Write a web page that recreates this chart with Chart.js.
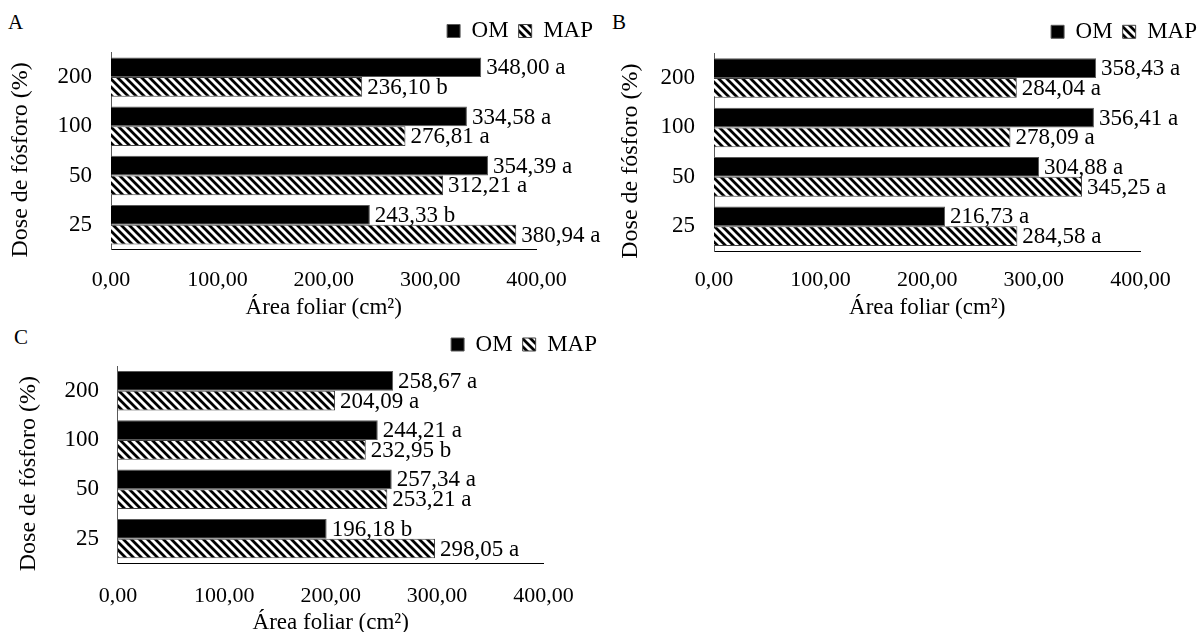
<!DOCTYPE html>
<html>
<head>
<meta charset="utf-8">
<script src="https://cdn.jsdelivr.net/npm/chart.js@4.4.1/dist/chart.umd.min.js"></script>
<style>
  html, body { margin: 0; padding: 0; background: #fff; width: 1199px; height: 632px; overflow: hidden; position: relative; }
  canvas { position: absolute; }
  .panel-letter { position: absolute; font-family: "Liberation Serif", serif; font-size: 21px; line-height: 21px; color: #000; }
</style>
</head>
<body>
<div class="panel-letter" style="left:8px; top:12px;">A</div>
<div class="panel-letter" style="left:612px; top:12px;">B</div>
<div class="panel-letter" style="left:14px; top:327px;">C</div>
<canvas id="chartA" width="603" height="320" style="left:0; top:0;"></canvas>
<canvas id="chartB" width="607" height="320" style="left:600px; top:0;"></canvas>
<canvas id="chartC" width="607" height="320" style="left:0; top:320px;"></canvas>
<script>
// Dose categories (top to bottom) and x tick labels
const doses = ['200', '100', '50', '25'];
const xTickLabels = ['0,00', '100,00', '200,00', '300,00', '400,00'];
const seriesNames = ['OM', 'MAP'];

// Panel A
const omA = [348.00, 334.58, 354.39, 243.33];
const omALetters = ['a', 'a', 'a', 'b'];
const mapA = [236.10, 276.81, 312.21, 380.94];
const mapALetters = ['b', 'a', 'a', 'a'];

// Panel B
const omB = [358.43, 356.41, 304.88, 216.73];
const omBLetters = ['a', 'a', 'a', 'a'];
const mapB = [284.04, 278.09, 345.25, 284.58];
const mapBLetters = ['a', 'a', 'a', 'a'];

// Panel C
const omC = [258.67, 244.21, 257.34, 196.18];
const omCLetters = ['a', 'a', 'a', 'b'];
const mapC = [204.09, 232.95, 253.21, 298.05];
const mapCLetters = ['a', 'b', 'a', 'a'];

const FONT = '"Liberation Serif", "Times New Roman", serif';
Chart.defaults.font.family = FONT;
Chart.defaults.color = '#000';

function fmt(v) {
    return v.toFixed(2).replace('.', ',');
}

// wide downward diagonal hatch, like the Excel pattern fill
function makeHatch() {
    const size = 8;
    const c = document.createElement('canvas');
    c.width = size;
    c.height = size;
    const g = c.getContext('2d');
    g.fillStyle = '#fff';
    g.fillRect(0, 0, size, size);
    g.strokeStyle = '#000';
    g.lineWidth = 2.8;
    g.beginPath();
    for (let k = -1; k <= 1; k++) {
        g.moveTo(-2, k * size - 2);
        g.lineTo(size + 2, k * size + size + 2);
    }
    g.stroke();
    return g.createPattern(c, 'repeat');
}

const hatch = makeHatch();

const valueLabels = {
    id: 'valueLabels',
    afterDatasetsDraw(chart) {
        const ctx = chart.ctx;
        ctx.save();
        ctx.font = '23px ' + FONT;
        ctx.fillStyle = '#000';
        ctx.textAlign = 'left';
        ctx.textBaseline = 'middle';
        chart.data.datasets.forEach((ds, i) => {
            chart.getDatasetMeta(i).data.forEach((bar, j) => {
                ctx.fillText(fmt(ds.data[j]) + ' ' + ds.letters[j], bar.x + 5, bar.y + 1);
            });
        });
        ctx.restore();
    }
};

function renderPanel(id, geo, om, omLetters, map, mapLetters) {
    const ctx = document.getElementById(id).getContext('2d');
    return new Chart(ctx, {
        type: 'bar',
        data: {
            labels: doses,
            datasets: [{
                label: seriesNames[0],
                data: om,
                letters: omLetters,
                backgroundColor: '#000',
                borderColor: '#595959',
                borderWidth: 1,
                categoryPercentage: 0.8,
                barPercentage: 1.0
            }, {
                label: seriesNames[1],
                data: map,
                letters: mapLetters,
                backgroundColor: hatch,
                borderColor: '#404040',
                borderWidth: 1,
                categoryPercentage: 0.8,
                barPercentage: 1.0
            }]
        },
        options: {
            indexAxis: 'y',
            responsive: false,
            animation: false,
            layout: { padding: { top: geo.padTop, right: 0, bottom: 0, left: 0 } },
            plugins: {
                legend: {
                    position: 'top',
                    align: 'end',
                    labels: {
                        font: { size: 23, family: FONT },
                        color: '#000',
                        boxWidth: 13,
                        boxHeight: 13,
                        padding: 10
                    }
                },
                tooltip: { enabled: false }
            },
            scales: {
                x: {
                    min: 0,
                    max: 400,
                    ticks: {
                        stepSize: 100,
                        padding: geo.tickPad,
                        font: { size: 22, family: FONT },
                        color: '#000',
                        callback: (v, i) => xTickLabels[i]
                    },
                    grid: { display: false, drawTicks: false },
                    border: { display: true, color: '#000', width: 1 },
                    title: {
                        display: true,
                        text: 'Área foliar (cm²)',
                        font: { size: 23, family: FONT, lineHeight: 1 },
                        color: '#000',
                        padding: { top: 0, bottom: geo.xTitlePad }
                    },
                    afterFit: s => { s.height = geo.xAxisH; }
                },
                y: {
                    ticks: {
                        padding: 19,
                        font: { size: 23, family: FONT },
                        color: '#000'
                    },
                    grid: { display: false, drawTicks: false },
                    border: { display: true, color: '#595959', width: 1 },
                    title: {
                        display: true,
                        // trailing spaces nudge the rotated title down, as in the original
                        text: 'Dose de fósforo (%)\u00a0\u00a0\u00a0',
                        font: { size: 24, family: FONT, lineHeight: 1 },
                        color: '#000',
                        padding: { top: geo.yTitlePad, bottom: 0 }
                    },
                    afterFit: s => { s.width = geo.yAxisW; }
                },
                // empty spacer on the right so the plot stops at 400 while the labels run past it
                spacer: {
                    type: 'linear',
                    position: 'right',
                    display: true,
                    ticks: { display: false },
                    grid: { display: false, drawTicks: false },
                    border: { display: false },
                    afterFit: s => { s.width = geo.rightW; }
                }
            }
        },
        plugins: [valueLabels]
    });
}

renderPanel('chartA', { padTop: 9.5, yAxisW: 111, rightW: 66.5, xAxisH: 70.7, tickPad: 17.5, xTitlePad: 0.5, yTitlePad: 9 },
    omA, omALetters, mapA, mapALetters);
renderPanel('chartB', { padTop: 10.3, yAxisW: 114, rightW: 66.6, xAxisH: 69, tickPad: 15.8, xTitlePad: 0.5, yTitlePad: 18.6 },
    omB, omBLetters, mapB, mapBLetters);
renderPanel('chartC', { padTop: 3, yAxisW: 117.9, rightW: 63.5, xAxisH: 76.7, tickPad: 20.2, xTitlePad: 5.2, yTitlePad: 16.7 },
    omC, omCLetters, mapC, mapCLetters);
</script>
</body>
</html>
